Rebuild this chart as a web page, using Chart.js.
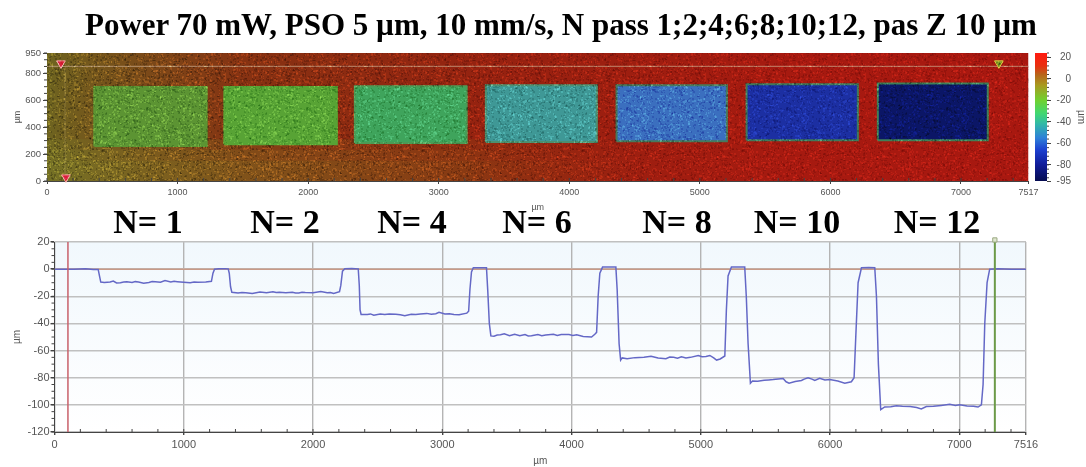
<!DOCTYPE html>
<html>
<head>
<meta charset="utf-8">
<script src="https://cdn.jsdelivr.net/npm/chart.js@4"></script>
<style>
body { margin: 0; background: #fff; width: 1086px; height: 467px; overflow: hidden; position: relative; }
canvas { position: absolute; left: 0; filter: blur(0.4px); }
.t { position: absolute; font-family: "Liberation Serif", serif; font-weight: bold; color: #000; white-space: nowrap; line-height: 1; }
#title { left: 85px; top: 9px; font-size: 31px; }
.n { top: 205px; font-size: 34px; transform: translateX(-50%); }
</style>
</head>
<body>
<canvas id="map" width="1086" height="213" style="top:0"></canvas>
<canvas id="bar" width="86" height="215" style="left:1000px;top:0"></canvas>
<canvas id="profile" width="1086" height="467" style="top:0"></canvas>
<div class="t" id="title"></div>
<script>
const titleText = "Power 70 mW, PSO 5 µm, 10 mm/s, N pass 1;2;4;6;8;10;12, pas Z 10 µm"
const nLabels = ["N= 1", "N= 2", "N= 4", "N= 6", "N= 8", "N= 10", "N= 12"]
const nLabelCenters = [148, 285, 412, 537, 677, 797, 937]

// map: pocket outlines in µm, one per pass count
const pocketLeft = [362, 1358, 2358, 3361, 4362, 5358, 6363]
const pocketRight = [1223, 2220, 3214, 4211, 5207, 6210, 7205]
const pocketTop = [698, 698, 703, 710, 710, 718, 723]
const pocketBottom = [260, 272, 282, 290, 295, 302, 302]
const pocketColors = ["#5c9433", "#58a335", "#3fa45c", "#3f9896", "#3b6fbf", "#1c2fa2", "#0b1666"]
const pocketEdges = ["#5c9433", "#58a335", "#4c9a55", "#4d8f70", "#477a5c", "#3f7a5c", "#3f8058"]
const mapXTicks = [0, 1000, 2000, 3000, 4000, 5000, 6000, 7000, 7517]
const mapYTicks = [0, 200, 400, 600, 800, 950]
const mapXMax = 7517
const mapYMax = 950
const markersRed = [[107, 873], [145, 27]]
const markersYellow = [[7290, 873]]
const mapCursorY = 851
const mapCursorX = 138

// colour scale
const barTicks = [20, 0, -20, -40, -60, -80, -95]
const barStops = [[24, "#ff1a10"], [12, "#e83010"], [4, "#b8641a"], [-6, "#a89a20"], [-20, "#70d030"], [-32, "#40d870"], [-42, "#30b8a8"], [-55, "#2e80d8"], [-66, "#1c40d0"], [-80, "#101c98"], [-95, "#060c50"]]

// profile, [x µm, z µm]
const profile = [[0,0],[150,0],[240,0.2],[300,-0.2],[338,-0.2],[348,-5],[358,-9.5],[385,-9.8],[430,-9.5],[455,-8.8],[480,-10.2],[510,-10],[535,-9.4],[560,-9.3],[600,-9.8],[625,-9.2],[650,-9.4],[690,-10.4],[730,-9.8],[755,-9.2],[780,-9.3],[820,-9.6],[855,-8.4],[900,-9.4],[925,-9],[950,-9.2],[1000,-9.6],[1050,-10],[1080,-9.5],[1110,-9.6],[1170,-9.4],[1214,-9],[1226,-3],[1238,0],[1270,0.3],[1320,0.3],[1344,0.2],[1352,-3],[1362,-13],[1372,-17],[1420,-17.6],[1450,-17.2],[1480,-17.4],[1530,-18],[1590,-16.8],[1640,-17.4],[1690,-16.6],[1715,-17.2],[1740,-17],[1790,-17.4],[1840,-17],[1865,-17.6],[1890,-17.6],[1915,-17],[1940,-17.2],[2000,-17.4],[2060,-16.4],[2110,-17.4],[2135,-17.2],[2160,-18],[2205,-16.6],[2215,-12],[2228,-1.5],[2246,0.3],[2300,0.5],[2350,0.2],[2358,-12],[2364,-30],[2372,-33.4],[2420,-33.4],[2445,-33],[2470,-34],[2520,-33],[2555,-33.4],[2590,-33],[2640,-33.2],[2675,-33.6],[2710,-34.4],[2760,-33.2],[2795,-33.4],[2830,-33],[2880,-32.6],[2915,-33.2],[2950,-32.8],[2975,-31.8],[3020,-33],[3055,-32.8],[3090,-33.4],[3130,-33.6],[3190,-32.4],[3204,-31],[3214,-15],[3226,-2],[3240,1],[3290,1],[3342,1],[3352,-16],[3364,-40],[3376,-49.2],[3400,-49.4],[3425,-48.6],[3450,-48.4],[3480,-47.6],[3520,-49],[3560,-48],[3600,-49],[3640,-48.2],[3665,-49.2],[3690,-49],[3740,-48.2],[3770,-49],[3800,-48.6],[3860,-48],[3890,-48.8],[3920,-48.2],[3980,-48.2],[4010,-48.8],[4040,-48.4],[4090,-49.6],[4155,-50],[4180,-48],[4194,-46.6],[4206,-20],[4219,-3],[4240,1.5],[4290,1.5],[4343,1.5],[4353,-15],[4368,-55],[4380,-67],[4392,-65.4],[4430,-66],[4490,-65.2],[4560,-65],[4615,-64.2],[4670,-65.4],[4730,-66],[4760,-64.8],[4790,-65],[4820,-65.6],[4850,-64.6],[4885,-65.4],[4920,-65],[4980,-63.6],[5010,-64.6],[5040,-64.4],[5070,-63.6],[5100,-65.4],[5122,-67],[5150,-66.2],[5186,-64],[5198,-30],[5211,-5],[5237,1.5],[5290,1.5],[5340,1.5],[5352,-20],[5366,-55],[5384,-84],[5400,-82.4],[5440,-82.6],[5490,-81.8],[5525,-81.6],[5560,-81.4],[5600,-81],[5637,-80.6],[5660,-83],[5683,-84],[5730,-82.8],[5779,-82],[5800,-81],[5830,-80],[5860,-81],[5882,-82],[5920,-80.4],[5960,-81.6],[5998,-81.4],[6060,-82.4],[6114,-84],[6165,-83],[6186,-80],[6199,-50],[6217,-10],[6243,1],[6300,1.2],[6346,1],[6359,-20],[6374,-70],[6392,-103.5],[6423,-101.5],[6470,-101.4],[6513,-100.6],[6560,-101],[6620,-101.2],[6670,-102],[6706,-103],[6745,-101.2],[6800,-101],[6860,-100.4],[6926,-99.6],[6970,-100.4],[7003,-100],[7060,-100.8],[7110,-101],[7145,-101.6],[7171,-100],[7184,-85],[7197,-40],[7215,-10],[7235,0],[7300,0.2],[7400,0],[7516,0]]
const profileXTicks = [0, 1000, 2000, 3000, 4000, 5000, 6000, 7000, 7516]
const profileYMin = -120
const profileYMax = 20
const cursorRedX = 104
const cursorGreenX = 7275

document.getElementById('title').textContent = titleText
nLabels.forEach((s, i) => {
	let d = document.createElement('div')
	d.className = 't n'
	d.textContent = s
	d.style.left = nLabelCenters[i] + 'px'
	document.body.appendChild(d)
})

const axisFont = { family: '"Liberation Sans", Arial, sans-serif', size: 10 }
const grayText = '#555'
const plainLabel = v => String(v)

// small ticks between the labelled ones
const minorTicks = {
	id: 'minorTicks',
	afterDraw(chart) {
		const ctx = chart.ctx
		ctx.save()
		ctx.strokeStyle = '#444'
		ctx.lineWidth = 1
		for (const id in chart.scales) {
			const s = chart.scales[id]
			const step = s.options.minorStep
			if (!step) continue
			ctx.beginPath()
			for (let v = Math.ceil(s.min / step) * step; v <= s.max; v += step) {
				const p = s.getPixelForValue(v)
				if (s.isHorizontal()) { ctx.moveTo(p, s.top); ctx.lineTo(p, s.top - 3) }
				else if (s.position === 'right') { ctx.moveTo(s.left, p); ctx.lineTo(s.left + 2, p) }
				else { ctx.moveTo(s.right, p); ctx.lineTo(s.right - 3, p) }
			}
			ctx.stroke()
		}
		ctx.restore()
	}
}

function stopsGradient(ctx, x0, y0, x1, y1, stops) {
	const g = ctx.createLinearGradient(x0, y0, x1, y1)
	stops.forEach(s => g.addColorStop(s[0], s[1]))
	return g
}

function box(l, r, t, b) {
	return [{ x: l, y: b }, { x: l, y: t }, { x: r, y: t }, { x: r, y: b }, { x: l, y: b }]
}

// map background, olive at the left going to red at the right
function mapUpperFill(c) {
	const a = c.chart.chartArea
	if (!a) return '#8a3010'
	return stopsGradient(c.chart.ctx, a.left, 0, a.right, 0, [[0, '#6e6420'], [0.05, '#75561c'], [0.2, '#863212'], [0.45, '#962210'], [0.75, '#a61a10'], [1, '#a81810']])
}
function mapLowerFill(c) {
	const a = c.chart.chartArea
	if (!a) return 'rgba(120,100,30,0.3)'
	return stopsGradient(c.chart.ctx, a.left, 0, a.right, 0, [[0, 'rgba(120,120,40,0.3)'], [0.2, 'rgba(125,100,30,0.3)'], [0.42, 'rgba(130,70,20,0.3)'], [0.62, 'rgba(150,40,16,0)'], [1, 'rgba(150,40,16,0)']])
}

// grain of the micrograph, fixed pattern painted over the map (style only, no values)
function speckle(ctx) {
	const cv = document.createElement('canvas')
	cv.width = cv.height = 160
	const p = cv.getContext('2d')
	let seed = 12345
	const next = () => (seed = (seed * 1103515245 + 12345) % 2147483648) / 2147483648
	for (let i = 0; i < 5200; i++) {
		const on = next()
		p.fillStyle = on < 0.45 ? 'rgba(255,255,255,0.24)' : 'rgba(0,0,0,0.2)'
		p.fillRect(Math.floor(next() * 160), Math.floor(next() * 160), 1 + Math.floor(next() * 2), 1 + Math.floor(next() * 2))
	}
	return ctx.createPattern(cv, 'repeat')
}
const mapGrain = {
	id: 'mapGrain',
	afterDatasetsDraw(chart) {
		const a = chart.chartArea
		const ctx = chart.ctx
		ctx.save()
		ctx.globalCompositeOperation = 'overlay'
		ctx.fillStyle = speckle(ctx)
		ctx.fillRect(a.left, a.top, a.right - a.left, a.bottom - a.top)
		ctx.restore()
	}
}

const mapSets = [
	{ data: box(0, mapXMax, mapYMax, 0), backgroundColor: mapUpperFill, order: 20 },
	{ data: box(0, mapXMax, 310, 0), backgroundColor: mapLowerFill, order: 19 },
	{ data: box(0, mapXMax, 230, 0), backgroundColor: mapLowerFill, order: 18 },
	{ data: box(0, mapXMax, 150, 0), backgroundColor: mapLowerFill, order: 17 }
]
pocketLeft.forEach((l, i) => {
	mapSets.push({
		data: box(l, pocketRight[i], pocketTop[i], pocketBottom[i]),
		backgroundColor: pocketColors[i],
		borderColor: pocketEdges[i],
		borderWidth: 2,
		order: 10
	})
})
mapSets.push({ data: [{ x: 0, y: mapCursorY }, { x: mapXMax, y: mapCursorY }], borderColor: 'rgba(205,175,145,0.7)', borderWidth: 1, fill: false, order: 5 })
mapSets.push({ data: [{ x: mapCursorX, y: 0 }, { x: mapCursorX, y: mapCursorY }], borderColor: 'rgba(215,195,130,0.25)', borderWidth: 1, fill: false, order: 5 })
mapSets.forEach(d => {
	if (d.fill === undefined) d.fill = 'shape'
	d.showLine = true
	d.pointRadius = 0
	if (d.borderWidth === undefined) d.borderWidth = 0
})
mapSets.push({
	data: markersRed.map(m => ({ x: m[0], y: m[1] })), showLine: false, pointStyle: 'triangle', rotation: 180,
	pointRadius: 5, backgroundColor: '#d8203a', borderColor: '#f4a8a0', borderWidth: 1, order: 1, clip: false
})
mapSets.push({
	data: markersYellow.map(m => ({ x: m[0], y: m[1] })), showLine: false, pointStyle: 'triangle', rotation: 180,
	pointRadius: 5, backgroundColor: '#6f8a20', borderColor: '#e0d040', borderWidth: 1, order: 1, clip: false
})

new Chart(document.getElementById('map'), {
	type: 'scatter',
	data: { datasets: mapSets },
	plugins: [mapGrain, minorTicks],
	options: {
		responsive: false,
		animation: false,
		layout: { padding: { top: 53, right: 57.5, left: 0, bottom: 0 } },
		plugins: { legend: { display: false }, tooltip: { enabled: false } },
		scales: {
			x: {
				type: 'linear', min: 0, max: mapXMax, minorStep: 200,
				afterBuildTicks: s => { s.ticks = mapXTicks.map(v => ({ value: v })) },
				afterFit: s => { s.height = 32 },
				grid: { drawOnChartArea: false, tickLength: 3, tickColor: '#444' },
				border: { color: '#444' },
				ticks: { color: grayText, callback: plainLabel, font: { ...axisFont, size: 9 }, maxRotation: 0, autoSkip: false, padding: 3 },
				title: { display: true, text: 'µm', color: grayText, font: { ...axisFont, size: 9 }, padding: 0 }
			},
			y: {
				type: 'linear', min: 0, max: mapYMax, minorStep: 50,
				afterBuildTicks: s => { s.ticks = mapYTicks.map(v => ({ value: v })) },
				afterFit: s => { s.width = 47 },
				grid: { drawOnChartArea: false, tickLength: 4, tickColor: '#444' },
				border: { color: '#444' },
				ticks: { color: grayText, callback: plainLabel, font: { ...axisFont, size: 9.5 }, autoSkip: false, padding: 2 },
				title: { display: true, text: 'µm', color: grayText, font: { ...axisFont, size: 9 }, padding: { top: 12, bottom: 0 } }
			}
		}
	}
})

// colour scale as its own small chart
new Chart(document.getElementById('bar'), {
	type: 'scatter',
	data: {
		datasets: [{
			data: box(0, 1, barStops[0][0], barStops[barStops.length - 1][0]),
			showLine: true, fill: 'shape', pointRadius: 0, borderWidth: 0,
			backgroundColor(c) {
				const a = c.chart.chartArea
				if (!a) return '#888'
				const top = barStops[0][0], low = barStops[barStops.length - 1][0]
				return stopsGradient(c.chart.ctx, 0, a.top, 0, a.bottom, barStops.map(s => [(top - s[0]) / (top - low), s[1]]))
			}
		}]
	},
	plugins: [minorTicks],
	options: {
		responsive: false,
		animation: false,
		layout: { padding: { top: 53, left: 35, right: 15, bottom: 34 } },
		plugins: { legend: { display: false }, tooltip: { enabled: false } },
		scales: {
			x: { type: 'linear', min: 0, max: 1, display: false },
			y: {
				type: 'linear', position: 'right', min: barStops[barStops.length - 1][0], max: barStops[0][0], minorStep: 4,
				afterBuildTicks: s => { s.ticks = barTicks.map(v => ({ value: v })) },
				afterFit: s => { s.width = 24 },
				grid: { drawOnChartArea: false, tickLength: 4, tickColor: '#444' },
				border: { display: false },
				ticks: { color: grayText, callback: plainLabel, crossAlign: 'far', font: { ...axisFont, size: 10 }, autoSkip: false, padding: 4 },
				title: { display: true, text: 'µm', color: grayText, font: { ...axisFont, size: 10 }, padding: { top: -16, bottom: 0 } }
			}
		}
	}
})

// profile plot
const plotWash = {
	id: 'plotWash',
	beforeDraw(chart) {
		const a = chart.chartArea
		const ctx = chart.ctx
		ctx.save()
		ctx.fillStyle = stopsGradient(ctx, 0, a.top, 0, a.bottom, [[0, '#f1f8fd'], [1, '#ffffff']])
		ctx.fillRect(a.left, a.top, a.right - a.left, a.bottom - a.top)
		ctx.restore()
	}
}

new Chart(document.getElementById('profile'), {
	type: 'scatter',
	data: {
		datasets: [
			{ data: profile.map(p => ({ x: p[0], y: p[1] })), showLine: true, borderColor: '#6468c6', borderWidth: 1.5, pointRadius: 0, order: 3 },
			{ data: [{ x: 0, y: 0 }, { x: profileXTicks[profileXTicks.length - 1], y: 0 }], showLine: true, borderColor: '#c89a88', borderWidth: 1.5, pointRadius: 0, order: 4 },
			{ data: [{ x: cursorRedX, y: profileYMin }, { x: cursorRedX, y: profileYMax }], showLine: true, borderColor: '#c8606a', borderWidth: 1.5, pointRadius: 0, order: 2 },
			{ data: [{ x: cursorGreenX, y: profileYMin }, { x: cursorGreenX, y: profileYMax }], showLine: true, borderColor: '#6c9a48', borderWidth: 2, pointRadius: 0, order: 1 },
			{ data: [{ x: cursorGreenX, y: 21.5 }], pointStyle: 'rect', pointRadius: 3, backgroundColor: '#dfe8d0', borderColor: '#9aa880', borderWidth: 1, clip: false, order: 0 }
		]
	},
	plugins: [plotWash, minorTicks],
	options: {
		responsive: false,
		animation: false,
		layout: { padding: { top: 242, right: 60, left: 0, bottom: 0 } },
		plugins: { legend: { display: false }, tooltip: { enabled: false } },
		scales: {
			x: {
				type: 'linear', min: 0, max: profileXTicks[profileXTicks.length - 1], minorStep: 200,
				afterBuildTicks: s => { s.ticks = profileXTicks.map(v => ({ value: v })) },
				afterFit: s => { s.height = 35 },
				grid: { color: '#b4b4b4', lineWidth: 1.4, tickLength: 3, tickColor: '#444' },
				border: { color: '#444' },
				ticks: { color: grayText, callback: plainLabel, font: { ...axisFont, size: 11 }, maxRotation: 0, autoSkip: false, padding: 3 },
				title: { display: true, text: 'µm', color: grayText, font: { ...axisFont, size: 10 }, padding: 0 }
			},
			y: {
				type: 'linear', min: profileYMin, max: profileYMax, minorStep: 5,
				afterFit: s => { s.width = 54.5 },
				grid: { color: '#c0c0c0', lineWidth: 1.4, tickLength: 4, tickColor: '#444' },
				border: { color: '#444' },
				ticks: { stepSize: 20, color: grayText, callback: plainLabel, font: { ...axisFont, size: 11 }, padding: 1 },
				title: { display: true, text: 'µm', color: grayText, font: { ...axisFont, size: 10 }, padding: { top: 11, bottom: 0 } }
			}
		}
	}
})
</script>
</body>
</html>
